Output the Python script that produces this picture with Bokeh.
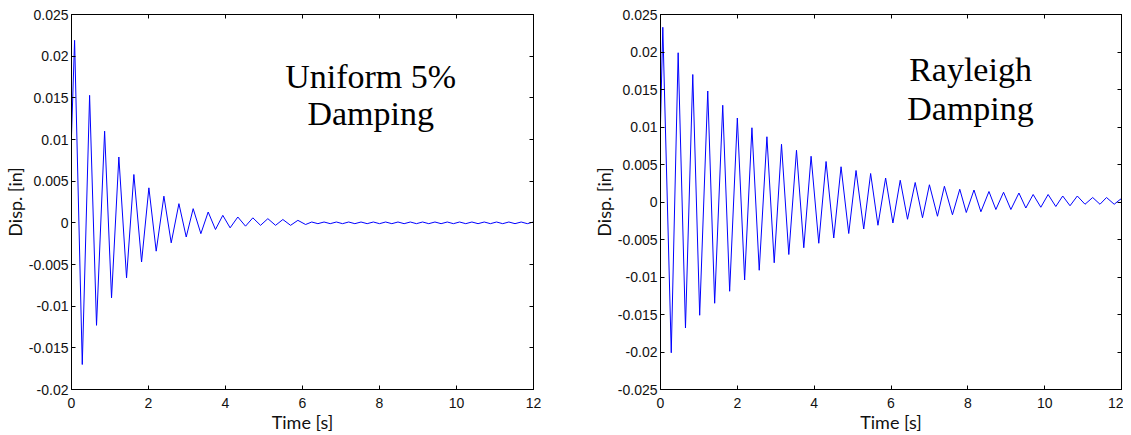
from bokeh.plotting import figure
from bokeh.models import (Range1d, LinearAxis, FixedTicker, NumeralTickFormatter,
                          Label)
from bokeh.layouts import row
from bokeh.embed import file_html
from bokeh.resources import INLINE

# ---------------- data ----------------
uniform_t = [0, 0.08, 0.28, 0.47, 0.65, 0.86, 1.04, 1.23, 1.43, 1.62, 1.82, 2.01,
             2.20, 2.40, 2.59, 2.79, 2.98, 3.16, 3.36, 3.55, 3.74, 3.93, 4.12, 4.32,
             4.52, 4.71, 4.91, 5.10, 5.30, 5.49, 5.69, 5.88, 6.08,
             6.24, 6.40, 6.56, 6.72, 6.88, 7.04, 7.20, 7.36, 7.52, 7.68, 7.84, 8.00,
             8.16, 8.32, 8.48, 8.64, 8.80, 8.96, 9.12, 9.28, 9.44, 9.60, 9.76, 9.92,
             10.08, 10.24, 10.40, 10.56, 10.72, 10.88, 11.04, 11.20, 11.36, 11.52,
             11.68, 11.84, 12.00]
uniform_disp = [0.0105, 0.0219, -0.0170, 0.0153, -0.0123, 0.0110, -0.0090, 0.0079,
                -0.0066, 0.0058, -0.0047, 0.0042, -0.0034, 0.0032, -0.0024, 0.0023,
                -0.0017, 0.0017, -0.0013, 0.0013, -0.0008, 0.0009, -0.0006, 0.0007,
                -0.0004, 0.0006, -0.0003, 0.0005, -0.0003, 0.0004, -0.0003, 0.0003,
                -0.0002,
                0.0001, -0.0001, 0.0001, -0.0001, 0.0001, -0.0001, 0.0001, -0.0001,
                0.0001, -0.0001, 0.0001, -0.0001, 0.0001, -0.0001, 0.0001, -0.0001,
                0.0001, -0.0001, 0.0001, -0.0001, 0.0001, -0.0001, 0.0001, -0.0001,
                0.0001, -0.0001, 0.0001, -0.0001, 0.0001, -0.0001, 0.0001, -0.0001,
                0.0001, -0.0001, 0.0001, -0.0001, 0.0001]

rayleigh_t = [0, 0.06, 0.28, 0.46, 0.65, 0.84, 1.02, 1.23, 1.41, 1.62,
              1.80, 2.00, 2.19, 2.38, 2.57, 2.77, 2.96, 3.15, 3.34, 3.54,
              3.73, 3.92, 4.12, 4.31, 4.51, 4.70, 4.90, 5.09, 5.29, 5.47,
              5.66, 5.86, 6.05, 6.24, 6.43, 6.63, 6.82, 7.00, 7.21, 7.39,
              7.60, 7.79, 7.96, 8.16, 8.34, 8.55, 8.73, 8.93, 9.12, 9.33,
              9.51, 9.70, 9.90, 10.09, 10.29, 10.47, 10.66, 10.85, 11.05, 11.25,
              11.44, 11.61, 11.81, 11.98, 12.0]
rayleigh_disp = [0.0105, 0.0233, -0.0201, 0.0199, -0.0168, 0.0170, -0.0151, 0.0148, -0.0135, 0.0129,
                 -0.0119, 0.0112, -0.0104, 0.0099, -0.0091, 0.0087, -0.0081, 0.0077, -0.0070, 0.0069,
                 -0.0061, 0.0061, -0.0055, 0.0054, -0.0048, 0.0047, -0.0042, 0.0042, -0.0036, 0.0038,
                 -0.0031, 0.0032, -0.0028, 0.0029, -0.0023, 0.0026, -0.0021, 0.0023, -0.0019, 0.0021,
                 -0.0017, 0.0017, -0.0014, 0.0016, -0.0013, 0.0014, -0.0010, 0.0013, -0.0010, 0.0012,
                 -0.0008, 0.0010, -0.0007, 0.0010, -0.0006, 0.0008, -0.0005, 0.0008, -0.0003, 0.0006,
                 -0.0003, 0.0006, -0.0003, 0.0004, 0.0002]

x_ticks = [0, 2, 4, 6, 8, 10, 12]
left_y_ticks = [-0.02, -0.015, -0.01, -0.005, 0, 0.005, 0.01, 0.015, 0.02, 0.025]
right_y_ticks = [-0.025, -0.02, -0.015, -0.01, -0.005, 0, 0.005, 0.01, 0.015, 0.02, 0.025]
x_label = "Time [s]"
y_label = "Disp. [in]"
left_title = ["Uniform 5%", "Damping"]
right_title = ["Rayleigh", "Damping"]

TICK_FONT = "Liberation Sans"
LABEL_FONT = "Lato"


def style_axis(ax, labels=True):
    ax.major_tick_in = 4
    ax.major_tick_out = 0
    ax.minor_tick_line_color = None
    ax.axis_line_color = "black"
    ax.major_tick_line_color = "black"
    if labels:
        ax.major_label_text_font = TICK_FONT
        ax.major_label_text_font_size = "14px"
        ax.major_label_text_color = "#111111"
        ax.axis_label_text_font = LABEL_FONT
        ax.axis_label_text_font_size = "18px"
        ax.axis_label_text_font_style = "normal"
        ax.axis_label_text_color = "#111111"
    else:
        ax.major_label_text_font_size = "1px"
        ax.major_label_text_color = None
        ax.major_label_standoff = 0


def make_panel(t, d, yticks, ylo, yhi, fw, fh, bl, br, title, tx, ty1, ty2):
    p = figure(frame_width=fw, frame_height=fh,
               x_range=Range1d(0, 12), y_range=Range1d(ylo, yhi),
               output_backend="svg", toolbar_location=None,
               min_border_left=bl, min_border_right=br,
               min_border_top=14, min_border_bottom=40,
               background_fill_color="white", border_fill_color="white")
    p.grid.visible = False
    p.outline_line_color = "black"
    p.line(t, d, line_color="#0000ff", line_width=1)

    p.xaxis.ticker = FixedTicker(ticks=x_ticks)
    p.yaxis.ticker = FixedTicker(ticks=yticks)
    p.yaxis.formatter = NumeralTickFormatter(format="0.[000]")
    p.xaxis.axis_label = x_label
    p.yaxis.axis_label = y_label
    for ax in p.xaxis + p.yaxis:
        style_axis(ax)
    p.xaxis.major_label_standoff = 8
    p.xaxis.axis_label_standoff = 0
    p.yaxis.major_label_standoff = 3
    p.yaxis.axis_label_standoff = 0

    top = LinearAxis(ticker=FixedTicker(ticks=x_ticks))
    style_axis(top, labels=False)
    p.add_layout(top, "above")
    right = LinearAxis(ticker=FixedTicker(ticks=yticks))
    style_axis(right, labels=False)
    p.add_layout(right, "right")

    for text, y in zip(title, [ty1, ty2]):
        p.add_layout(Label(x=tx, y=y, text=text, text_align="center",
                           text_baseline="alphabetic", text_font="Liberation Serif",
                           text_font_size="34px", text_color="black"))
    return p


p1 = make_panel(uniform_t, uniform_disp, left_y_ticks, -0.02, 0.025,
                462, 375, 71, 47, left_title, 7.77, 0.0176, 0.0131)
p2 = make_panel(rayleigh_t, rayleigh_disp, right_y_ticks, -0.025, 0.025,
                461, 375, 80, 2, right_title, 8.07, 0.0177, 0.0125)

layout = row(p1, p2)
open("out.html", "w").write(file_html(layout, INLINE))
